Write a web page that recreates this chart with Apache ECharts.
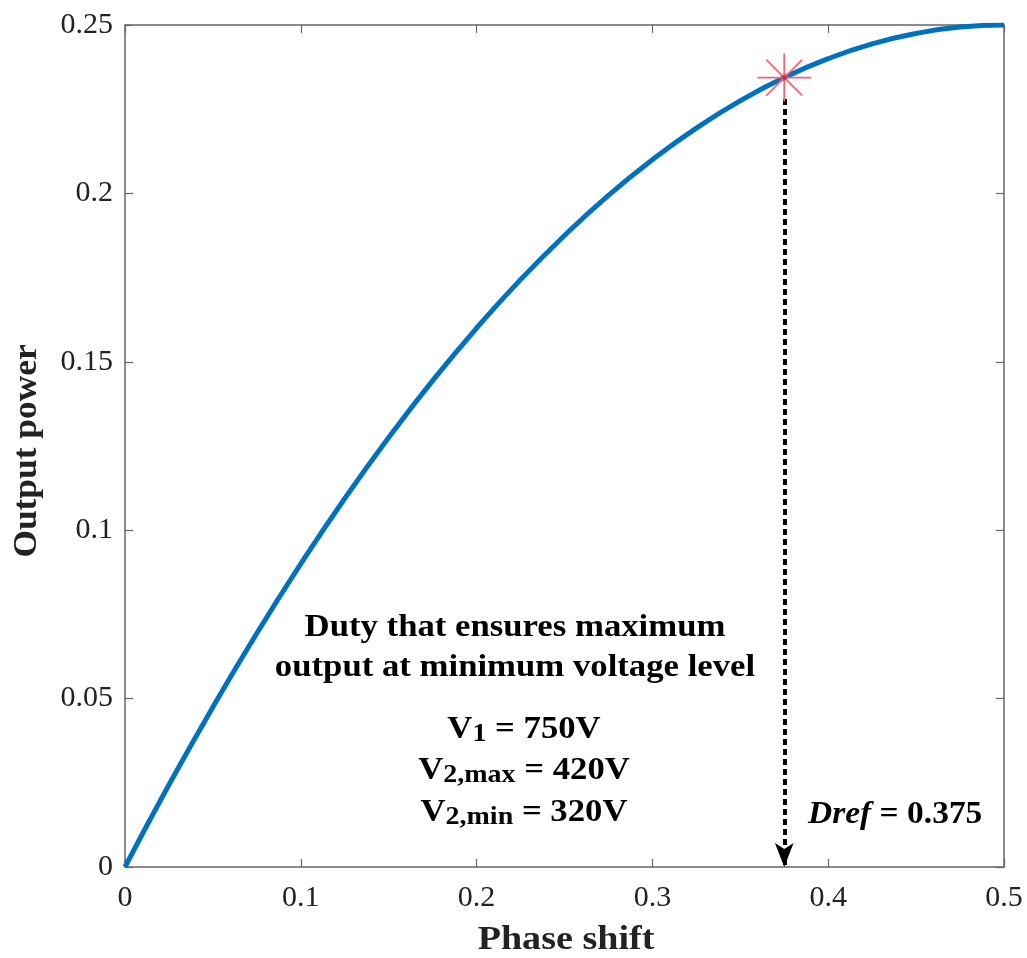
<!DOCTYPE html>
<html>
<head>
<meta charset="utf-8">
<script src="https://cdn.jsdelivr.net/npm/echarts@6/dist/echarts.min.js"></script>
<style>html,body{margin:0;padding:0;background:#fff;}#c{width:1027px;height:958px;}</style>
</head>
<body>
<div id="c"></div>
<script>
// Data
const phaseShift = [0, 0.025, 0.05, 0.075, 0.1, 0.125, 0.15, 0.175, 0.2, 0.225, 0.25, 0.275, 0.3, 0.325, 0.35, 0.375, 0.4, 0.425, 0.45, 0.475, 0.5];
const outputPower = [0, 0.0244, 0.0475, 0.0694, 0.09, 0.1094, 0.1275, 0.1444, 0.16, 0.1744, 0.1875, 0.1994, 0.21, 0.2194, 0.2275, 0.2344, 0.24, 0.2444, 0.2475, 0.2494, 0.25];
const markerPoint = [0.375, 0.2344];
const arrowTop = 0.228;
const arrowBottom = 0;
const xTicks = [0, 0.1, 0.2, 0.3, 0.4, 0.5];
const yTicks = [0, 0.05, 0.1, 0.15, 0.2, 0.25];
const xTitle = 'Phase shift';
const yTitle = 'Output power';
const noteLines = 'Duty that ensures maximum\noutput at minimum voltage level';
const drefLabel = '{i|Dref}{b| = 0.375}';

const serif = '"Liberation Serif", "Times New Roman", serif';
const axisColor = '#666';

const chart = echarts.init(document.getElementById('c'));
const fmt = v => String(+v.toFixed(3));
const baseX = {
  type: 'value', min: 0, max: 0.5, interval: 0.1,
  axisLine: { show: true, onZero: false, lineStyle: { color: axisColor, width: 1.5 } },
  axisTick: { show: true, inside: true, length: 8, lineStyle: { color: axisColor, width: 1.2 } },
  splitLine: { show: false }
};
const baseY = {
  type: 'value', min: 0, max: 0.25, interval: 0.05,
  axisLine: { show: true, onZero: false, lineStyle: { color: axisColor, width: 1.5 } },
  axisTick: { show: true, inside: true, length: 8, lineStyle: { color: axisColor, width: 1.2 } },
  splitLine: { show: false }
};

chart.setOption({
  backgroundColor: '#fff',
  animation: false,
  grid: { left: 125, right: 23, top: 25, bottom: 91 },
  xAxis: [
    Object.assign({}, baseX, {
      position: 'bottom',
      axisLabel: { fontFamily: serif, fontSize: 30, color: '#222', margin: 16, formatter: v => xTicks.includes(+v.toFixed(3)) ? fmt(v) : '' }
    }),
    Object.assign({}, baseX, { position: 'top', axisLabel: { show: false } })
  ],
  yAxis: [
    Object.assign({}, baseY, {
      position: 'left',
      axisLabel: { fontFamily: serif, fontSize: 30, color: '#222', margin: 12, formatter: v => yTicks.includes(+v.toFixed(3)) ? fmt(v) : '' }
    }),
    Object.assign({}, baseY, { position: 'right', axisLabel: { show: false } })
  ],
  series: [
    {
      type: 'line',
      data: phaseShift.map((x, i) => [x, outputPower[i]]),
      smooth: true,
      showSymbol: false,
      lineStyle: { color: '#0072BD', width: 5 },
      z: 3,
      markLine: {
        silent: true,
        symbol: ['none', 'arrow'],
        symbolSize: [14, 24],
        label: { show: false },
        lineStyle: { type: [6, 4], width: 4, color: '#000' },
        data: [[{ coord: [markerPoint[0], arrowTop] }, { coord: [markerPoint[0], arrowBottom] }]]
      }
    },
    {
      type: 'custom',
      data: [markerPoint],
      z: 5,
      renderItem: function (params, api) {
        const p = api.coord([api.value(0), api.value(1)]);
        const rx = 27, ry = 24, d = 18;
        const st = { stroke: '#F06474', lineWidth: 1.8 };
        return {
          type: 'group',
          children: [
            { type: 'line', shape: { x1: p[0] - rx, y1: p[1], x2: p[0] + rx, y2: p[1] }, style: st },
            { type: 'line', shape: { x1: p[0], y1: p[1] - ry, x2: p[0], y2: p[1] + ry }, style: st },
            { type: 'line', shape: { x1: p[0] - d, y1: p[1] - d, x2: p[0] + d, y2: p[1] + d }, style: st },
            { type: 'line', shape: { x1: p[0] - d, y1: p[1] + d, x2: p[0] + d, y2: p[1] - d }, style: st },
            { type: 'circle', shape: { cx: p[0], cy: p[1], r: 2.2 }, style: { fill: '#C8284A' } }
          ]
        };
      }
    }
  ],
  graphic: [
    {
      type: 'text', x: 566, y: 940, scaleX: 1.12,
      style: { text: xTitle, fontFamily: serif, fontWeight: 'bold', fontSize: 34, fill: '#222', align: 'center', verticalAlign: 'middle' }
    },
    {
      type: 'text', x: 27, y: 451, rotation: Math.PI / 2, scaleX: 1.04,
      style: { text: yTitle, fontFamily: serif, fontWeight: 'bold', fontSize: 34, fill: '#222', align: 'center', verticalAlign: 'middle' }
    },
    {
      type: 'text', x: 515, y: 648, scaleX: 1.12,
      style: {
        text: noteLines,
        fontFamily: serif, fontWeight: 'bold', fontSize: 31, lineHeight: 40,
        fill: '#000', align: 'center', verticalAlign: 'middle'
      }
    },
    {
      type: 'text', x: 524, y: 771, scaleX: 1.12,
      style: {
        text: '{m|V}{s|1}{m| = 750V}\n{m|V}{s|2,max}{m| = 420V}\n{m|V}{s|2,min}{m| = 320V}',
        align: 'center', verticalAlign: 'middle',
        rich: {
          m: { fontFamily: serif, fontWeight: 'bold', fontSize: 31, lineHeight: 41.5, fill: '#000' },
          s: { fontFamily: serif, fontWeight: 'bold', fontSize: 25, lineHeight: 41.5, padding: [10, 0, 0, 0], fill: '#000' }
        }
      }
    },
    {
      type: 'text', x: 808, y: 815, scaleX: 1.08,
      style: {
        text: drefLabel, align: 'left', verticalAlign: 'middle',
        rich: {
          i: { fontFamily: serif, fontStyle: 'italic', fontWeight: 'bold', fontSize: 31, fill: '#000' },
          b: { fontFamily: serif, fontWeight: 'bold', fontSize: 31, fill: '#000' }
        }
      }
    }
  ]
});
</script>
</body>
</html>
